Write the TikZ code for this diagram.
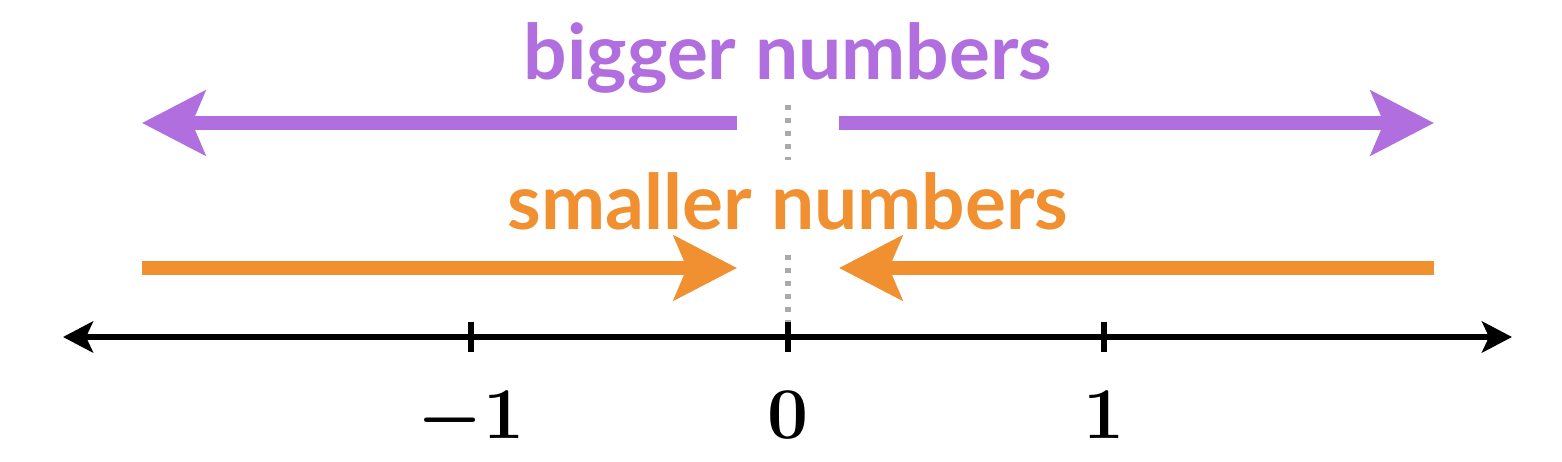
\documentclass[tikz,border=0pt]{standalone}
\usepackage{amsmath, tkz-euclide}
\usepackage{fontspec}
\setsansfont{Lato}
\usetikzlibrary{arrows.meta}
\definecolor{bigcol}{RGB}{176,110,223}
\definecolor{smallcol}{RGB}{240,144,48}
\definecolor{dotcol}{RGB}{170,170,170}
\tikzset{>=Stealth,
  axis/.style={line width=1.9pt, line cap=butt, <->, >={Stealth[length=3mm, width=3.1mm, inset=0.7mm]}},
  tick/.style={line width=1.9pt, line cap=butt},
  fat/.style={line width=4.2pt, line cap=butt, ->, >={Stealth[length=6.3mm, width=6.4mm, inset=1.3mm]}},
  zeroline/.style={dotcol, line width=1.7pt, line cap=butt, dash pattern=on 1.5pt off 2.2pt},
  word/.style={anchor=base, font=\fontsize{21.8}{26}\selectfont\sffamily\bfseries},
  numlab/.style={anchor=base, font=\fontsize{21}{25}\selectfont\boldmath}}

\begin{document}
\begin{tikzpicture}
\useasboundingbox (0,0) rectangle (15.62,4.62);
\tkzDefPoints{0.63/1.25/A, 15.12/1.25/B, 7.88/1.25/O}
\tkzDefPoints{4.71/1.10/P, 4.71/1.40/Q, 7.88/1.10/R, 7.88/1.40/S, 11.04/1.10/U, 11.04/1.40/V}
\tkzDefPoints{1.42/3.39/BL, 7.37/3.39/BM, 8.39/3.39/BN, 14.34/3.39/BR}
\tkzDefPoints{1.42/1.94/SL, 7.37/1.94/SM, 8.39/1.94/SN, 14.34/1.94/SR}
\tkzDefPoints{7.88/3.57/D1, 7.88/3.02/D2, 7.88/2.07/D3, 7.88/1.40/D4}
% zero markers
\tkzDrawSegments[zeroline](D1,D2 D3,D4)
% number line
\tkzDrawSegment[axis](A,B)
\tkzDrawSegments[tick](P,Q R,S U,V)
\node[numlab] (m1) at (4.71,0.23) {$-1$};
\node[numlab] (z0) at (7.88,0.23) {$0$};
\node[numlab] (p1) at (11.04,0.23) {$1$};
% bigger
\node[word, bigcol] (big) at (7.88,3.82) {bigger numbers};
\tkzDrawSegments[fat, bigcol](BM,BL BN,BR)
% smaller
\node[word, smallcol] (small) at (7.88,2.32) {smaller numbers};
\tkzDrawSegments[fat, smallcol](SL,SM SR,SN)
\end{tikzpicture}
\end{document}
